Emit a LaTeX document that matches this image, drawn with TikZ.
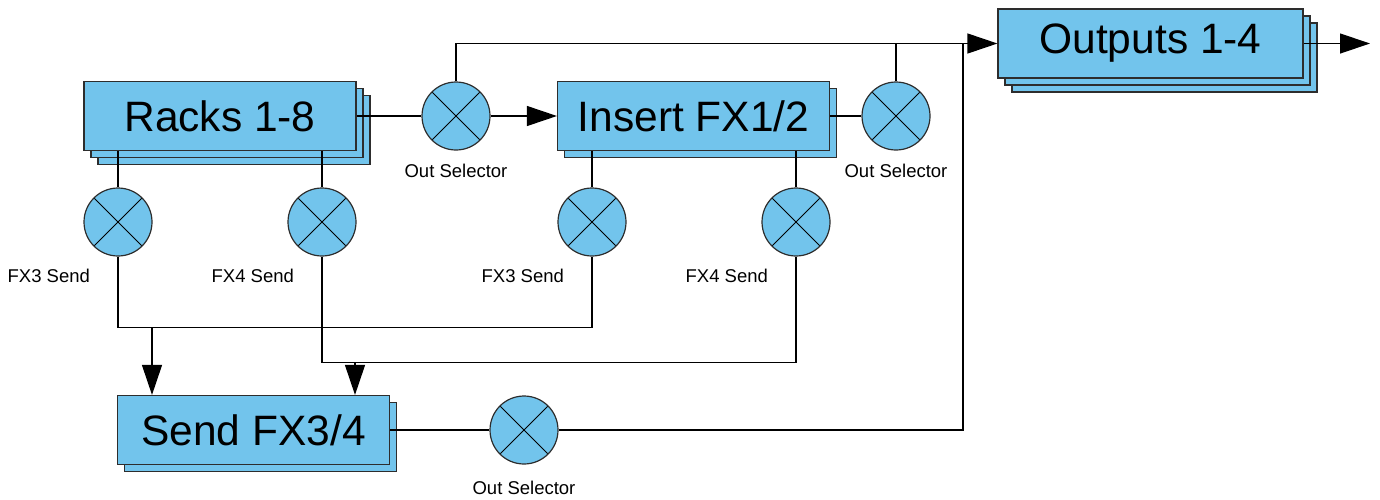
\documentclass[tikz,border=0pt]{standalone}
\usepackage{fontspec}
\setmainfont{Liberation Sans}
\usepackage{tikz}
\usetikzlibrary{arrows.meta,positioning,shadows}

\definecolor{boxblue}{RGB}{114,196,236}
\definecolor{edgegray}{RGB}{45,45,45}

\begin{document}
\begin{tikzpicture}[x=1pt,y=-1pt,line width=1.2pt,
    unit/.style={draw=edgegray,fill=boxblue,rectangle,inner sep=0pt,
      minimum width=272pt,minimum height=69pt,font=\fontsize{42.5}{50}\selectfont},
    stack/.style={copy shadow={shadow xshift=7pt,shadow yshift=-7pt}},
    dstack/.style={copy shadow={shadow xshift=14pt,shadow yshift=-14pt},
      copy shadow={shadow xshift=7pt,shadow yshift=-7pt}},
    mix/.style={draw=edgegray,fill=boxblue,circle,inner sep=0pt,minimum size=68pt,
      path picture={\draw[black,line width=1pt]
        (path picture bounding box.north west) -- (path picture bounding box.south east)
        (path picture bounding box.north east) -- (path picture bounding box.south west);}},
    lbl/.style={inner sep=0pt,font=\fontsize{18.5}{22}\selectfont},
    arr/.style={-{Triangle[length=30pt,width=20pt]}}]
      \useasboundingbox (0,0) rectangle (1380,499);

      \coordinate (R) at (220,116);
      \coordinate (I) at (693.5,116);
      \coordinate (O) at (1150.5,43.5);
      \coordinate (S) at (253.5,430);
      \coordinate (M1) at (456,116);
      \coordinate (M2) at (896,116);
      \coordinate (M3) at (524,430);
      \coordinate (A3) at (118,222);
      \coordinate (A4) at (322,222);
      \coordinate (B3) at (592,222);
      \coordinate (B4) at (796,222);
      \coordinate (bus3) at (152,327.5);
      \coordinate (bus4) at (355,362.5);
      \coordinate (jn) at (963,43.5);
      \coordinate (outend) at (1370,43.5);

      \node[unit,dstack] (rk) at (R) {Racks 1-8};
      \node[unit,stack] (ins) at (I) {Insert FX1/2};
      \node[unit,dstack,minimum width=305pt] (outs) at (O) {Outputs 1-4};
      \node[unit,stack] (sd) at (S) {Send FX3/4};

      \node[mix] (os1) at (M1) {};
      \node[mix] (os2) at (M2) {};
      \node[mix] (os3) at (M3) {};
      \node[mix] (fa3) at (A3) {};
      \node[mix] (fa4) at (A4) {};
      \node[mix] (fb3) at (B3) {};
      \node[mix] (fb4) at (B4) {};

      \node[lbl,below=13pt of os1] (l1) {Out Selector};
      \node[lbl,below=13pt of os2] (l2) {Out Selector};
      \node[lbl,below=16pt of os3] (l3) {Out Selector};
      \node[lbl,below left=22pt and 3pt of fa3] (l4) {FX3 Send};
      \node[lbl,below left=22pt and 3pt of fa4] (l5) {FX4 Send};
      \node[lbl,below left=22pt and 3pt of fb3] (l6) {FX3 Send};
      \node[lbl,below left=22pt and 3pt of fb4] (l7) {FX4 Send};

      \draw (rk.east) -- (os1.west);
      \draw[arr] (os1.east) -- (ins.west);
      \draw (ins.east) -- (os2.west);
      \draw[arr] (os1.north) |- (outs.west);
      \draw (os2.north) |- (jn);
      \draw (sd.east) -- (os3.west);
      \draw (os3.east) -| (jn);
      \draw[arr] (outs.east) -- (outend);

      \draw (rk.south -| fa3.north) -- (fa3.north);
      \draw (rk.south -| fa4.north) -- (fa4.north);
      \draw (ins.south -| fb3.north) -- (fb3.north);
      \draw (ins.south -| fb4.north) -- (fb4.north);
      \draw (fa3.south) |- (bus3 -| fb3.south) -- (fb3.south);
      \draw (fa4.south) |- (bus4 -| fb4.south) -- (fb4.south);
      \draw[arr] (bus3) -- (bus3 |- sd.north);
      \draw[arr] (bus4) -- (bus4 |- sd.north);

    \end{tikzpicture}
\end{document}
